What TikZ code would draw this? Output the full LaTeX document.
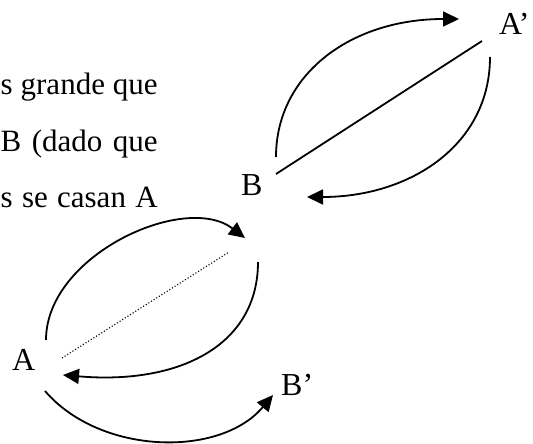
\documentclass[tikz,border=0pt]{standalone}
\usepackage{fontspec}
\setmainfont{Liberation Serif}
\usetikzlibrary{arrows.meta}
\begin{document}
\begin{tikzpicture}[x=1pt,y=-1pt,
  lbl/.style={inner sep=0pt,font=\fontsize{32}{38}\selectfont},
  txt/.style={inner sep=0pt,anchor=base west,font=\fontsize{31}{37}\selectfont},
  conn/.style={line width=1.8pt},
  arr/.style={conn,-{Triangle[length=16pt,width=15pt]}},
  dotline/.style={line width=1.1pt,dotted}]
\useasboundingbox (0,0) rectangle (533,444);
% text fragment
\node[txt] (t1) at (0.5,95) {\makebox[157pt][s]{s grande que}};
\node[txt] (t2) at (0.5,151) {\makebox[157pt][s]{B (dado que}};
\node[txt] (t3) at (0.5,207) {\makebox[157pt][s]{s se casan A}};
% labels
\node[lbl,anchor=base west] (Ap) at (499,35) {A’};
\node[lbl,anchor=base west] (B) at (241,195) {B};
\node[lbl,anchor=base west] (A) at (12,370) {A};
\node[lbl,anchor=base west] (Bp) at (281,395) {B’};
% endpoints
\coordinate (b1) at (276,157);
\coordinate (ap1) at (459,19);
\coordinate (b2) at (276,174);
\coordinate (ap2) at (482,41);
\coordinate (ap3) at (490,57);
\coordinate (b3) at (307,197);
\coordinate (a1) at (46,340);
\coordinate (bm1) at (245,238);
\coordinate (a2) at (62,358);
\coordinate (bm2) at (229,252);
\coordinate (bm3) at (258,262);
\coordinate (a3) at (63,375);
\coordinate (a4) at (45,391);
\coordinate (bp1) at (273,395);
% connectors
\draw[arr] (b1) .. controls (276,75) and (350,19) .. (ap1);
\draw[conn] (b2) -- (ap2);
\draw[arr] (ap3) .. controls (490,145) and (410,197) .. (b3);
\draw[arr] (a1) .. controls (46,255) and (185,192) .. (bm1);
\draw[dotline] (a2) -- (bm2);
\draw[arr] (bm3) .. controls (258,345) and (180,385) .. (a3);
\draw[arr] (a4) .. controls (100,455) and (220,458) .. (bp1);
\end{tikzpicture}
\end{document}
